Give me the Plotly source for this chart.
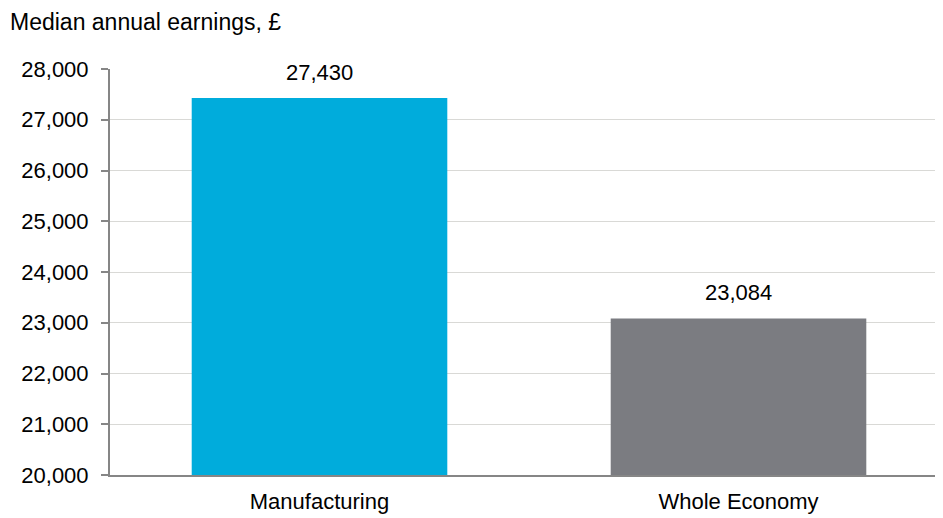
import plotly.graph_objects as go

categories = ["Manufacturing", "Whole Economy"]
values = [27430, 23084]
colors = ["#00ACDC", "#7B7C81"]
y_ticks = [20000, 21000, 22000, 23000, 24000, 25000, 26000, 27000, 28000]
y_tick_labels = [f"{v:,}" for v in y_ticks]

FONT = "Liberation Sans, Arial, sans-serif"
W, H = 940, 510
L, R, T, B = 102, 0, 61, 43
plot_w, plot_h = W - L - R, H - T - B

fig = go.Figure(go.Bar(
    x=categories, y=values, marker=dict(color=colors, line=dict(width=0)),
    width=0.61, hoverinfo="x+y",
))

annotations = [
    dict(x=c, y=v, text=f"{v:,}", showarrow=False, xref="x", yref="y",
         yanchor="bottom", yshift=11, font=dict(size=22, family=FONT, color="#000000"))
    for c, v in zip(categories, values)
]
annotations.append(dict(
    text="Median annual earnings, £", x=(0 - L) / plot_w, y=1 + (T - 14) / plot_h,
    xref="paper", yref="paper", showarrow=False, xanchor="left", yanchor="middle",
    font=dict(size=23, family=FONT, color="#000000"),
))

fig.update_layout(
    width=W, height=H,
    margin=dict(l=L, r=R, t=T, b=B, autoexpand=False),
    paper_bgcolor="white", plot_bgcolor="white",
    font=dict(family=FONT, size=22, color="#000000"),
    showlegend=False, annotations=annotations,
)

fig.update_yaxes(
    range=[20000, 28000], tickvals=y_ticks, ticktext=y_tick_labels,
    showgrid=True, gridcolor="#D9D9D6", gridwidth=1,
    showline=True, linecolor="#868686", linewidth=2,
    ticks="outside", ticklen=7, tickcolor="#868686", tickwidth=1.5,
    zeroline=False, tickfont=dict(size=22), ticklabelstandoff=8, automargin=False,
)
fig.update_xaxes(
    showline=True, linecolor="#868686", linewidth=2,
    ticks="", showgrid=False, tickfont=dict(size=22), ticklabelstandoff=6,
    automargin=False,
)

fig.write_html("out.html")
